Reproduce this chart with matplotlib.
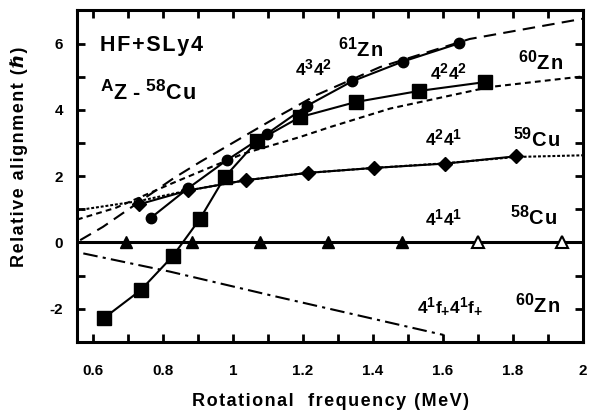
import matplotlib
matplotlib.use('Agg')
import matplotlib.pyplot as plt
from matplotlib.ticker import MultipleLocator
from matplotlib import _mathtext

plt.rcParams['font.family'] = ['Liberation Sans', 'DejaVu Sans']
plt.rcParams['font.weight'] = 'bold'
plt.rcParams['mathtext.fontset'] = 'custom'
plt.rcParams['mathtext.rm'] = 'Liberation Sans:bold'
plt.rcParams['mathtext.bf'] = 'Liberation Sans:bold'
plt.rcParams['mathtext.it'] = 'Liberation Sans:bold'
# superscripts in the original are larger than mathtext's default 0.7
_mathtext.SHRINK_FACTOR = 0.8

HS = '\u200a'  # hair space, used to spread the letters a bit

# 58Cu 4^1 4^1 reference (all zero), filled then open triangles
cu58_x = [0.693, 0.882, 1.077, 1.273, 1.483]
cu58_open_x = [1.702, 1.94]

# 60Zn 4^2 4^2 (squares)
zn60_x = [0.630, 0.736, 0.828, 0.906, 0.977, 1.068, 1.191, 1.352, 1.531, 1.721]
zn60_y = [-2.29, -1.44, -0.41, 0.72, 1.98, 3.05, 3.78, 4.24, 4.57, 4.84]

# 61Zn 4^3 4^2 (circles)
zn61_x = [0.766, 0.871, 0.982, 1.096, 1.211, 1.340, 1.486, 1.647]
zn61_y = [0.75, 1.63, 2.48, 3.27, 4.12, 4.86, 5.46, 6.01]

# 59Cu 4^2 4^1 (diamonds)
cu59_x = [0.731, 0.872, 1.037, 1.214, 1.404, 1.607, 1.809]
cu59_y = [1.15, 1.57, 1.88, 2.10, 2.25, 2.38, 2.60]

# smooth reference curves
zn61_th_x = [0.563, 0.628, 0.829, 0.906, 1.125, 1.239, 1.420, 1.677, 2.0]
zn61_th_y = [0.07, 0.47, 1.93, 2.43, 3.78, 4.45, 5.29, 6.14, 6.75]

zn60_th_x = [0.554, 0.666, 0.818, 0.920, 1.030, 1.191, 1.277, 1.449, 1.734, 2.0]
zn60_th_y = [0.69, 1.05, 1.75, 2.20, 2.68, 3.18, 3.48, 4.04, 4.69, 5.01]

cu59_th_x = [0.554, 0.731, 0.872, 1.037, 1.214, 1.404, 1.607, 1.809, 2.0]
cu59_th_y = [0.97, 1.25, 1.57, 1.88, 2.10, 2.25, 2.39, 2.58, 2.63]

zn60ff_x = [0.572, 0.820, 1.106, 1.602]
zn60ff_y = [-0.33, -0.88, -1.59, -2.79]

fig = plt.figure(figsize=(5.97, 4.19), dpi=100)
ax = fig.add_axes([0.129, 0.184, 0.847, 0.791])

lw = 1.5
ax.axhline(0, color='black', lw=2.2, zorder=2)
ax.plot(zn61_th_x, zn61_th_y, color='black', lw=lw, dashes=(6, 3.5))
ax.plot(zn60_th_x, zn60_th_y, color='black', lw=lw, dashes=(2.8, 2))
ax.plot(cu59_th_x, cu59_th_y, color='black', lw=lw, dashes=(1.4, 0.9))
ax.plot(zn60ff_x, zn60ff_y, color='black', lw=lw, dashes=(7, 2.5, 1.5, 2.5))

ax.plot(zn60_x, zn60_y, color='black', lw=lw, marker='s', ms=9.5, zorder=4)
ax.plot(zn61_x, zn61_y, color='black', lw=lw, marker='o', ms=7.5, zorder=4)
ax.plot(cu59_x, cu59_y, color='black', lw=lw, marker='D', ms=7, zorder=4)
ax.plot(cu58_x, [0] * len(cu58_x), ls='none', marker='^', ms=9,
        color='black', zorder=5)
ax.plot(cu58_open_x, [0] * len(cu58_open_x), ls='none', marker='^', ms=9,
        mfc='white', mec='black', mew=1.5, zorder=5)

ax.set_xlim(0.554, 2.0)
ax.set_ylim(-3, 7)
ax.xaxis.set_minor_locator(MultipleLocator(0.1))
ax.yaxis.set_minor_locator(MultipleLocator(1))
ax.set_xticks([0.6, 0.8, 1.0, 1.2, 1.4, 1.6, 1.8, 2.0])
ax.set_xticklabels(['0.6', '0.8', '1', '1.2', '1.4', '1.6', '1.8', '2'])
ax.set_yticks([-2, 0, 2, 4, 6])
ax.set_yticklabels(['-2', '0', '2', '4', '6'])
ax.tick_params(which='both', direction='in', top=True, right=True,
               length=6, width=2, labelsize=11)
ax.tick_params(axis='x', pad=16)
ax.tick_params(axis='y', pad=10)
for s in ax.spines.values():
    s.set_linewidth(2.2)

fig.text(0.553, 0.041, HS.join('Rotational  frequency (MeV)'),
         ha='center', va='center', fontsize=13)
fig.text(0.032, 0.625, HS.join('Relative alignment (\u210f)'),
         ha='center', va='center', rotation=90, fontsize=13)

big = 15.5
ax.text(0.62, 5.79, HS.join('HF+SLy4'), fontsize=big, va='baseline')
ax.text(0.62, 4.29, r'$^{\mathbf{A}}$Z - $^{\mathbf{58}}$C' + HS + 'u',
        fontsize=big, va='baseline')

iso = 14.5
lab = 12.5
ax.text(1.300, 5.59, r'$^{\mathbf{61}}$Z' + HS + 'n', fontsize=iso, va='baseline')
ax.text(1.177, 5.04, r'4$^{\mathbf{3}}$4$^{\mathbf{2}}$', fontsize=lab, va='baseline')
ax.text(1.814, 5.19, r'$^{\mathbf{60}}$Z' + HS + 'n', fontsize=iso, va='baseline')
ax.text(1.563, 4.92, r'4$^{\mathbf{2}}$4$^{\mathbf{2}}$', fontsize=lab, va='baseline')
ax.text(1.549, 2.93, r'4$^{\mathbf{2}}$4$^{\mathbf{1}}$', fontsize=lab, va='baseline')
ax.text(1.800, 2.88, r'$^{\mathbf{59}}$C' + HS + 'u', fontsize=iso, va='baseline')
ax.text(1.549, 0.52, r'4$^{\mathbf{1}}$4$^{\mathbf{1}}$', fontsize=lab, va='baseline')
ax.text(1.791, 0.52, r'$^{\mathbf{58}}$C' + HS + 'u', fontsize=iso, va='baseline')
ax.text(1.526, -2.13, r'4$^{\mathbf{1}}$f$_{\mathbf{+}}$4$^{\mathbf{1}}$f$_{\mathbf{+}}$',
        fontsize=lab, va='baseline')
ax.text(1.806, -2.13, r'$^{\mathbf{60}}$Z' + HS + 'n', fontsize=iso, va='baseline')

fig.savefig('out.png', dpi=100)
